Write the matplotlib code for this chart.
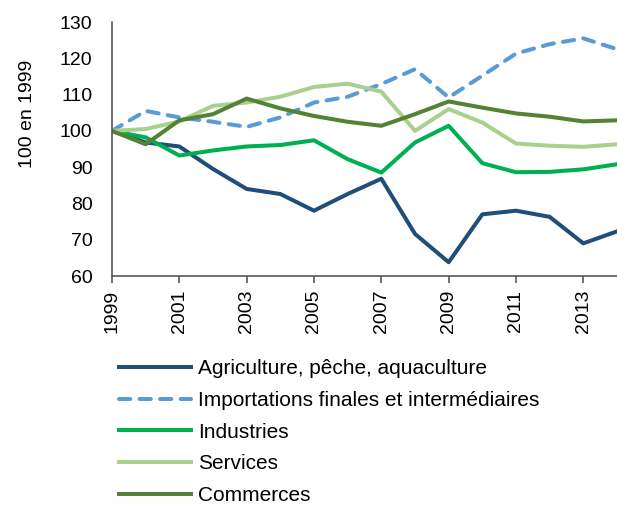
import matplotlib.pyplot as plt

years = list(range(1999, 2015))

agriculture = [100, 96.8, 95.7, 89.5, 84.0, 82.6, 78.0, 82.6, 86.8, 71.6, 63.8, 77.0, 78.0, 76.3, 69.0, 72.3]
importations = [100, 105.5, 103.7, 102.5, 101.1, 103.7, 107.8, 109.4, 112.9, 117.0, 109.2, 115.2, 121.3, 123.9, 125.5, 122.5]
industries = [100, 98.2, 93.2, 94.6, 95.7, 96.1, 97.4, 92.2, 88.5, 96.8, 101.4, 91.1, 88.6, 88.7, 89.4, 90.8]
services = [100, 100.5, 102.6, 106.9, 107.8, 109.4, 112.1, 113.0, 110.8, 100.0, 106.0, 102.3, 96.5, 95.9, 95.6, 96.3]
commerces = [100, 96.3, 102.9, 104.6, 108.9, 106.2, 104.1, 102.5, 101.4, 104.6, 108.1, 106.4, 104.8, 103.9, 102.6, 102.9]

labels = ['Agriculture, pêche, aquaculture',
          'Importations finales et intermédiaires',
          'Industries', 'Services', 'Commerces']

plt.rcParams['font.family'] = ['Liberation Sans', 'DejaVu Sans']

fig = plt.figure(figsize=(6.17, 5.07), dpi=100)
ax = fig.add_axes([0.1815, 0.4556, 0.8185, 0.501])

lw = 2.9
ax.plot(years, agriculture, color='#1F4E79', lw=lw, label=labels[0])
ax.plot(years, importations, color='#5B9BD5', lw=lw, dashes=(2.8, 2.3),
        dash_capstyle='round', label=labels[1])
ax.plot(years, industries, color='#00B050', lw=lw, label=labels[2])
ax.plot(years, services, color='#A9D18E', lw=lw, label=labels[3])
ax.plot(years, commerces, color='#548235', lw=lw, label=labels[4])

ax.set_xlim(1999, 2014)
ax.set_ylim(60, 130)
ax.set_xticks(range(1999, 2015, 2))
ax.set_xticklabels([str(y) for y in range(1999, 2015, 2)], rotation=90)
ax.set_yticks(range(60, 131, 10))
ax.tick_params(axis='x', labelsize=14, length=5, width=1.2, color='#595959', direction='out', pad=5)
ax.tick_params(axis='y', labelsize=14, length=0, pad=14)
ax.set_ylabel('100 en 1999', fontsize=14)
ax.yaxis.set_label_coords(-0.15, 0.64)

for s in ['top', 'right']:
    ax.spines[s].set_visible(False)
for s in ['left', 'bottom']:
    ax.spines[s].set_color('#595959')
    ax.spines[s].set_linewidth(1.2)

fig.legend(loc='upper left', bbox_to_anchor=(0.18, 0.308), frameon=False,
           fontsize=15, handlelength=3.46, handletextpad=0.3, labelspacing=0.61,
           borderaxespad=0)

fig.savefig('out.png', dpi=100)
